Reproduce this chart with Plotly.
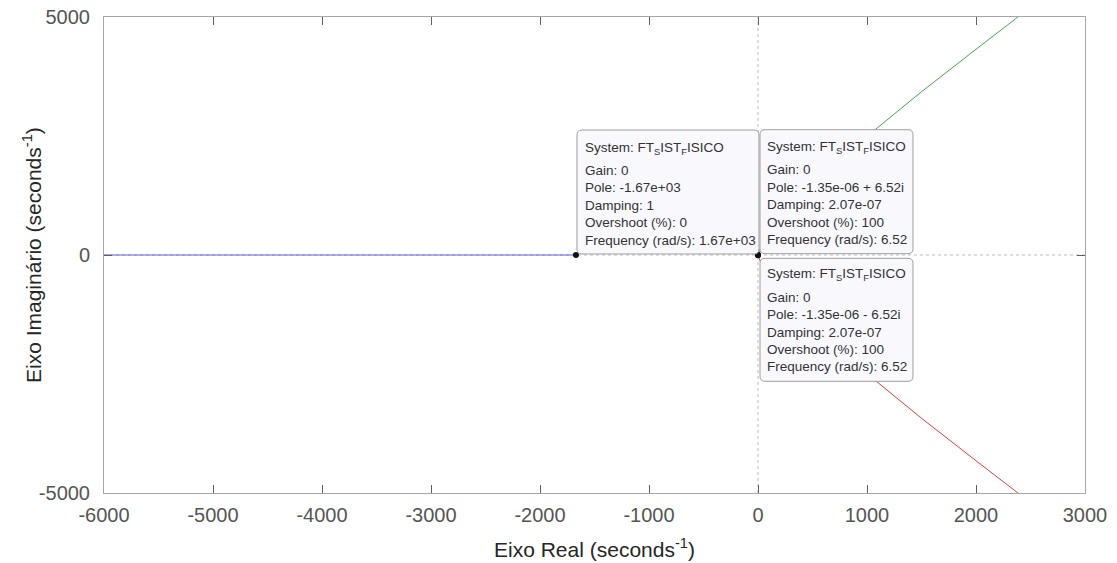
import plotly.graph_objects as go

# Open-loop poles of FT_SIST_FISICO
pole_real = [-1670.0, -1.35e-06, -1.35e-06]
pole_imag = [0.0, 6.52, -6.52]

# Root-locus branches
branch_blue_x = [-1670.0, -6000.0]
branch_blue_y = [0.0, 0.0]
branch_green_x = [0.0, 100.0, 300.0, 600.0, 1073.0, 1500.0, 2000.0, 2385.0, 2600.0]
branch_green_y = [6.52, 603.0, 1128.0, 1756.0, 2630.0, 3430.0, 4322.0, 5000.0, 5380.0]
branch_red_x = branch_green_x
branch_red_y = [-v for v in branch_green_y]

# Data-tip contents (one list of lines per tip)
tip_lines = [
    ["System: FT<sub>S</sub>IST<sub>F</sub>ISICO", "Gain: 0", "Pole: -1.67e+03", "Damping: 1",
     "Overshoot (%): 0", "Frequency (rad/s): 1.67e+03"],
    ["System: FT<sub>S</sub>IST<sub>F</sub>ISICO", "Gain: 0", "Pole: -1.35e-06 + 6.52i",
     "Damping: 2.07e-07", "Overshoot (%): 100", "Frequency (rad/s): 6.52"],
    ["System: FT<sub>S</sub>IST<sub>F</sub>ISICO", "Gain: 0", "Pole: -1.35e-06 - 6.52i",
     "Damping: 2.07e-07", "Overshoot (%): 100", "Frequency (rad/s): 6.52"],
]

x_ticks = [-6000, -5000, -4000, -3000, -2000, -1000, 0, 1000, 2000, 3000]
x_ticktext = ["-6000", "-5000", "-4000", "-3000", "-2000", "-1000", "0", "1000", "2000", "3000"]
y_ticks = [-5000, 0, 5000]
y_ticktext = ["-5000", "0", "5000"]

FONT = "Liberation Sans, Arial, sans-serif"

fig = go.Figure()

# dotted reference lines through the origin
fig.add_shape(type="line", xref="x", yref="paper", x0=0, x1=0, y0=0, y1=1,
              line=dict(color="#bdbdbd", width=1, dash="dot"), layer="below")
fig.add_shape(type="line", xref="paper", yref="y", x0=0, x1=1, y0=0, y1=0,
              line=dict(color="#bdbdbd", width=1, dash="dot"), layer="below")

fig.add_trace(go.Scatter(x=branch_blue_x, y=branch_blue_y, mode="lines",
                         line=dict(color="#5c5ce8", width=1), showlegend=False))
fig.add_trace(go.Scatter(x=branch_green_x, y=branch_green_y, mode="lines",
                         line=dict(color="#47a647", width=1), showlegend=False))
fig.add_trace(go.Scatter(x=branch_red_x, y=branch_red_y, mode="lines",
                         line=dict(color="#e63c3c", width=1), showlegend=False))


def rounded_path(x0, y0, x1, y1, r):
    # rounded rectangle in pixel offsets (y positive upward)
    return (f"M {x0 + r},{y0} L {x1 - r},{y0} Q {x1},{y0} {x1},{y0 + r} "
            f"L {x1},{y1 - r} Q {x1},{y1} {x1 - r},{y1} L {x0 + r},{y1} "
            f"Q {x0},{y1} {x0},{y1 - r} L {x0},{y0 + r} Q {x0},{y0} {x0 + r},{y0} Z")


# pixel offsets of each text line centre relative to the anchoring pole
line_up = [107, 85, 67.5, 50, 32.5, 15]
line_down = [-19, -42, -59.5, -77, -94.5, -111]

# (anchor pole index, box pixel extents relative to pole, line offsets)
tip_boxes = [
    (0, (1, 1, 183, 125), line_up),
    (1, (2, 1, 155, 125), line_up),
    (2, (2, -3, 155, -126), line_down),
]

for (idx, (bx0, by0, bx1, by1), offsets), lines in zip(tip_boxes, tip_lines):
    px, py = pole_real[idx], pole_imag[idx]
    fig.add_shape(type="path", xref="x", yref="y",
                  xsizemode="pixel", ysizemode="pixel", xanchor=px, yanchor=py,
                  path=rounded_path(bx0, min(by0, by1), bx1, max(by0, by1), 5),
                  fillcolor="#f9f9fd", line=dict(color="#9e9e9e", width=1), layer="above")
    for text, dy in zip(lines, offsets):
        fig.add_annotation(x=px, y=py, xref="x", yref="y", text=text, showarrow=False,
                           xanchor="left", yanchor="middle", align="left",
                           xshift=8, yshift=dy, borderpad=0,
                           font=dict(family=FONT, size=13.5, color="#333333"))

fig.add_trace(go.Scatter(x=pole_real, y=pole_imag, mode="markers",
                         marker=dict(color="#111111", size=6), showlegend=False))

# axis titles
fig.add_annotation(xref="paper", yref="paper", x=0, y=0.5, xshift=-72,
                   text="Eixo Imaginário (seconds<sup>-1</sup>)", textangle=-90,
                   showarrow=False, xanchor="center", yanchor="middle",
                   font=dict(family=FONT, size=21, color="#262626"))
fig.add_annotation(xref="paper", yref="paper", x=0.5, y=0, yshift=-55,
                   text="Eixo Real (seconds<sup>-1</sup>)",
                   showarrow=False, xanchor="center", yanchor="middle",
                   font=dict(family=FONT, size=21, color="#262626"))

axis_common = dict(
    showgrid=False, zeroline=False, showline=True, mirror="ticks",
    linecolor="#a6a6a6", linewidth=1, ticks="inside", ticklen=8,
    tickcolor="#606060", tickwidth=1, automargin=False,
    tickfont=dict(family=FONT, size=20, color="#555555"),
)

fig.update_layout(
    width=1117, height=563,
    margin=dict(l=104, r=32, t=17, b=70),
    paper_bgcolor="white", plot_bgcolor="white",
    xaxis=dict(range=[-6000, 3000], tickvals=x_ticks, ticktext=x_ticktext,
               ticklabelstandoff=4, **axis_common),
    yaxis=dict(range=[-5000, 5000], tickvals=y_ticks, ticktext=y_ticktext,
               ticklabelstandoff=9, **axis_common),
)

fig.write_html("out.html")
